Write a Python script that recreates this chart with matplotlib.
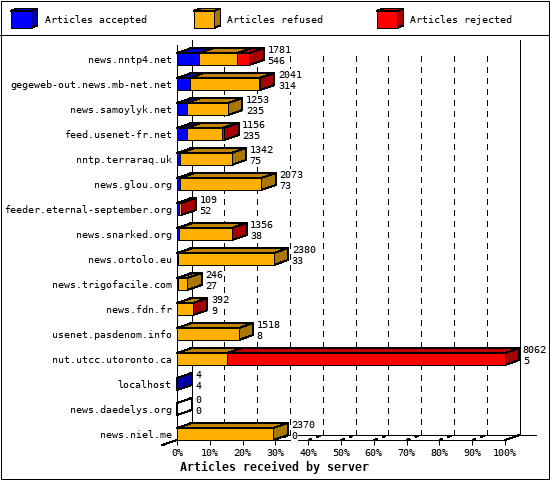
import matplotlib
matplotlib.use("Agg")
import matplotlib.pyplot as plt
from matplotlib.patches import Rectangle, Polygon

plt.rcParams["text.hinting"] = "no_autohint"

servers = ["news.nntp4.net", "gegeweb-out.news.mb-net.net", "news.samoylyk.net", "feed.usenet-fr.net",
           "nntp.terraraq.uk", "news.glou.org", "feeder.eternal-september.org", "news.snarked.org",
           "news.ortolo.eu", "news.trigofacile.com", "news.fdn.fr", "usenet.pasdenom.info",
           "nut.utcc.utoronto.ca", "localhost", "news.daedelys.org", "news.niel.me"]
totals = [1781, 2041, 1253, 1156, 1342, 2073, 109, 1356, 2380, 246, 392, 1518, 8062, 4, 0, 2370]
accepted = [546, 314, 235, 235, 75, 73, 52, 38, 33, 27, 9, 8, 5, 4, 0, 0]
rejected = [295, 25, 0, 40, 0, 0, 12, 10, 0, 0, 3, 0, 6825, 0, 0, 0]
legend_labels = ["Articles accepted", "Articles refused", "Articles rejected"]
xtick_values = [0, 10, 20, 30, 40, 50, 60, 70, 80, 90, 100]
xtitle = "Articles received by server"
scale_max = 8067

FRONT = ["#0000ff", "#ffb000", "#ff0000"]
TOP = ["#0000c0", "#c08400", "#c00000"]
SIDE = ["#0000a8", "#a87800", "#a80000"]
MONO = "DejaVu Sans Mono"
FS = 7.2
W, H = 550, 480
PXX = 328 / 100
PXY = 25
DX = 14.5 / PXX
DY = -5 / PXY
HALF = 6 / PXY
LW = 0.72

fig = plt.figure(figsize=(W / 100, H / 100), dpi=100, facecolor="white")

ov = fig.add_axes([0, 0, 1, 1], zorder=5)
ov.set_xlim(0, W)
ov.set_ylim(H, 0)
ov.axis("off")
ov.patch.set_alpha(0)
ov.add_patch(Rectangle((0.5, 0.5), W - 1.5, H - 1.5, fill=False, ec="black", lw=LW, aa=False))
ov.plot([0, W], [35, 35], color="black", lw=LW, aa=False)
for x0, tx, lab, f, t, s in zip([10.5, 193.5, 376.5], [45, 227, 410], legend_labels, FRONT, TOP, SIDE):
    w, h, dx, dy = 20.5, 17, 6.5, -2.5
    y0 = 11
    ov.add_patch(Polygon([(x0, y0), (x0 + dx, y0 + dy), (x0 + w + dx, y0 + dy), (x0 + w, y0)], fc=t, ec="black", lw=LW, aa=False))
    ov.add_patch(Polygon([(x0 + w, y0), (x0 + w + dx, y0 + dy), (x0 + w + dx, y0 + h + dy), (x0 + w, y0 + h)], fc=s, ec="black", lw=LW, aa=False))
    ov.add_patch(Rectangle((x0, y0), w, h, fc=f, ec="black", lw=LW, aa=False))
    ov.text(tx, 20, lab, family=MONO, fontsize=FS, va="center", ha="left")
ov.text(180, 467, xtitle, family=MONO, fontsize=8.4, fontweight="bold", va="center", ha="left")

ax = fig.add_axes([177 / W, 1 - 440 / H, 328 / W, 395 / H])
ax.patch.set_alpha(0)
ax.set_xlim(0, 100)
ax.set_ylim(15 + HALF, -14 / PXY)
for s in ["top", "right"]:
    ax.spines[s].set_visible(False)
for s in ["left", "bottom"]:
    ax.spines[s].set_linewidth(LW)
    ax.spines[s].set_antialiased(False)
    ax.spines[s].set_zorder(50)
ax.set_xticks(xtick_values)
ax.set_xticklabels([f"{v}%" for v in xtick_values], family=MONO, fontsize=FS)
ax.set_yticks(range(len(servers)))
ax.set_yticklabels(servers, family=MONO, fontsize=FS)
ax.tick_params(axis="x", length=3.6, width=LW, pad=2.2)
ax.tick_params(axis="y", length=0, pad=3.6)

floor = 15 + HALF
top_grid = -4 / PXY
line = dict(color="black", lw=LW, antialiased=False, clip_on=False, zorder=1)
ax.plot([DX, DX], [floor + DY, ax.get_ylim()[1] + DY], **line)
ax.plot([100 + DX, 100 + DX], [floor + DY, ax.get_ylim()[1] + DY], **line)
ax.plot([DX, 105 + DX], [floor + DY, floor + DY], **line)
ax.plot([100, 100 + DX], [floor, floor + DY], **line)
ax.plot([-DX, DX], [floor - DY, floor + DY], **line)
for v in xtick_values[1:-1]:
    ax.plot([v + DX, v + DX], [floor + DY, top_grid + DY], ls=(0, (5.5, 5.5)), **line)
    ax.plot([v, v + DX], [floor, floor + DY], ls=(0, (4, 5.5)), **line)

for i in range(len(servers)):
    ref = totals[i] - accepted[i] - rejected[i]
    parts = [accepted[i], ref, rejected[i]]
    z = 10 + i
    left = 0.0
    last = None
    for j, val in enumerate(parts):
        w = val / scale_max * 100
        if val == 0:
            continue
        ax.fill([left, left + DX, left + w + DX, left + w], [i - HALF, i - HALF + DY, i - HALF + DY, i - HALF],
                fc=TOP[j], ec="black", lw=LW, aa=False, clip_on=False, zorder=z)
        ax.barh(i, w, left=left, height=2 * HALF, color=FRONT[j], edgecolor="black", linewidth=LW,
                antialiased=False, clip_on=False, zorder=z + 0.4)
        left += w
        last = j
    fc = SIDE[last] if last is not None else "none"
    ax.fill([left, left + DX, left + DX, left],
            [i - HALF, i - HALF + DY, i + HALF + DY, i + HALF],
            fc=fc, ec="black", lw=LW, aa=False, clip_on=False, zorder=z + 0.3)
    for val, off in ((totals[i], 9), (accepted[i], -2)):
        ax.annotate(str(val), xy=(totals[i] / scale_max * 100, i), xytext=(18, off), textcoords="offset pixels",
                    family=MONO, fontsize=FS, va="center", ha="left", annotation_clip=False, zorder=60,
                    bbox=dict(fc="white", ec="none", pad=0.5))

fig.savefig("out.png", dpi=100, facecolor="white")
